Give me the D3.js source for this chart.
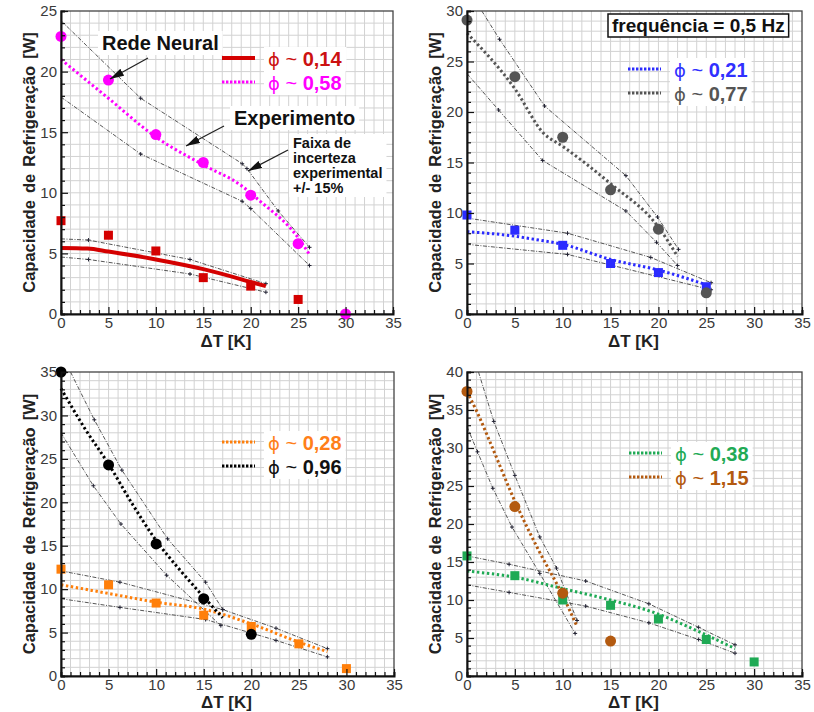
<!DOCTYPE html>
<html>
<head>
<meta charset="utf-8">
<script src="https://cdn.jsdelivr.net/npm/d3@7"></script>
<style>
  body { margin: 0; background: #fff; }
  svg { font-family: "Liberation Sans", Arial, Helvetica, sans-serif; }
</style>
</head>
<body>
<svg id="chart" width="814" height="712"></svg>
<script>
// ---- data: [ΔT (K), capacidade (W)] ----
const xTicks = [0, 5, 10, 15, 20, 25, 30, 35];

// painel 1 : phi 0,14 / 0,58
const exp014 = [[0, 7.7], [5, 6.5], [10, 5.2], [15, 3.0], [20, 2.3], [25, 1.2]];
const exp058 = [[0, 22.9], [5, 19.3], [10, 14.8], [15, 12.5], [20, 9.8], [25, 5.8], [30, 0]];
const rn014 = [[0, 5.45], [2.8, 5.4], [5, 5.15], [10, 4.5], [15, 3.7], [20, 2.65], [21.6, 2.3]];
const rn058 = [[0, 21], [5, 17.8], [10, 14.6], [15, 12.3], [19, 10.6], [21, 9.3], [25, 6.3], [26.2, 4.9]];
const band014Sup = [[0, 6.2], [2.9, 6.1], [13.6, 4.5], [21.6, 2.5]];
const band014Inf = [[0, 4.7], [2.9, 4.5], [13.6, 3.3], [21.6, 1.8]];
const band058Sup = [[0, 24.2], [8.4, 17.8], [19.1, 12.4], [19.6, 12.0], [22.9, 8.5], [26.2, 5.5]];
const band058Inf = [[0, 17.9], [8.4, 13.2], [19.1, 9.3], [20, 8.7], [26.2, 4.0]];

// painel 2 : phi 0,21 / 0,77
const exp021 = [[0, 9.8], [5, 8.3], [10, 6.8], [15, 5.0], [20, 4.1], [25, 2.7]];
const exp077 = [[0, 29.1], [5, 23.5], [10, 17.5], [15, 12.3], [20, 8.4], [25, 2.1]];
const rn021 = [[0, 8.15], [5, 7.7], [7, 7.4], [10, 6.9], [15, 5.4], [20, 4.35], [25, 2.9]];
const rn077 = [[0, 27.8], [5, 22.3], [8, 17.9], [10, 16.6], [15, 12.9], [20, 8.6], [22, 5.7]];
const band021Sup = [[0, 9.5], [10.5, 8.0], [19.2, 5.6], [25.5, 3.1]];
const band021Inf = [[0, 6.9], [10.5, 5.9], [25.5, 2.4]];
const band077Sup = [[1.55, 30], [3.4, 27.2], [8.1, 20.6], [16.6, 13.7], [19.9, 9.6], [22.1, 6.4]];
const band077Inf = [[0, 23.8], [3.3, 20.2], [7.9, 15.2], [16.6, 10.2], [19.8, 7.1], [22, 4.8]];

// painel 3 : phi 0,28 / 0,96
const exp028 = [[0, 12.3], [5, 10.5], [10, 8.4], [15, 7.0], [20, 5.7], [25, 3.7], [30, 0.85]];
const exp096 = [[0, 35], [5, 24.3], [10, 15.2], [15, 8.9], [20, 4.8]];
const rn028 = [[0, 10.5], [5, 9.5], [10, 8.5], [15, 7.7], [20, 6.0], [25, 3.9], [28, 2.8]];
const rn096 = [[0, 33.1], [2.5, 28.5], [5, 24.4], [7.5, 19.8], [10, 15.6], [12.5, 12.2], [15, 9.1], [17, 6.7]];
const band028Sup = [[0, 12.1], [6.2, 10.8], [17, 7.65], [22.6, 5.5], [28, 3.15]];
const band028Inf = [[0, 8.9], [6.2, 7.9], [15.2, 6.5], [22.6, 4.1], [28, 2.2]];
const band096Sup = [[1, 35], [3.5, 29.5], [6.4, 23.7], [11.2, 15.8], [15.2, 10.8], [17, 7.65]];
const band096Inf = [[0, 28], [3.4, 21.9], [6.3, 17.5], [11.1, 11.6], [16.8, 5.8]];

// painel 4 : phi 0,38 / 1,15
const exp038 = [[0, 15.8], [5, 13.2], [10, 10.0], [15, 9.3], [20, 7.5], [25, 4.8], [30, 1.85]];
const exp115 = [[0, 37.45], [5, 22.3], [10, 10.9], [15, 4.6]];
const rn038 = [[0, 13.8], [5, 13.0], [10, 11.5], [15, 10.0], [19.2, 8.5], [24.3, 5.8], [28, 3.6]];
const rn115 = [[0, 37.4], [1.1, 34.6], [2.5, 30.5], [5, 23.0], [7.5, 16.5], [10, 10.6], [11.5, 6.5]];
const band038Sup = [[0, 15.8], [4.4, 14.7], [12.4, 12.5], [19, 9.5], [24.2, 6.4], [28, 4.1]];
const band038Inf = [[0, 12.0], [4.4, 11.0], [12.4, 9.2], [19, 7.0], [24.2, 4.8], [28, 3.0]];
const band115Sup = [[1.2, 40], [2.8, 33.5], [5, 26.4], [7.6, 18.3], [9.35, 14.2], [11.5, 7.3]];
const band115Inf = [[0, 32.8], [1.1, 29.5], [2.7, 24.7], [4.7, 19.6], [7.6, 13.5], [11.3, 5.6]];

const yTitle = "Capacidade de Refrigeração [W]";
const xTitle = "ΔT [K]";

// ---- layout ----
const panels = [
  { left: 61, right: 393, top: 11, bottom: 314, yMax: 25, yTitleX: 35, xTitleY: 347,
    legend: { x: 222, y: 58 },
    series: [
      { label: "0,14", exp: exp014, shape: "square", rn: rn014, sup: band014Sup, inf: band014Inf, color: "#d40000", text: "#cc1111", solid: true },
      { label: "0,58", exp: exp058, shape: "circle", rn: rn058, sup: band058Sup, inf: band058Inf, color: "#ff00ff", text: "#ff00ff" }
    ] },
  { left: 467, right: 802, top: 11, bottom: 314, yMax: 30, yTitleX: 441, xTitleY: 347,
    legend: { x: 628, y: 69 },
    series: [
      { label: "0,21", exp: exp021, shape: "square", rn: rn021, sup: band021Sup, inf: band021Inf, color: "#2b2bff", text: "#3030ff" },
      { label: "0,77", exp: exp077, shape: "circle", rn: rn077, sup: band077Sup, inf: band077Inf, color: "#555555", text: "#555555" }
    ] },
  { left: 61, right: 394, top: 372, bottom: 676, yMax: 35, yTitleX: 35, xTitleY: 708,
    legend: { x: 222, y: 442 },
    series: [
      { label: "0,28", exp: exp028, shape: "square", rn: rn028, sup: band028Sup, inf: band028Inf, color: "#ff7f0a", text: "#ff7f1a" },
      { label: "0,96", exp: exp096, shape: "circle", rn: rn096, sup: band096Sup, inf: band096Inf, color: "#000000", text: "#111111" }
    ] },
  { left: 467, right: 802, top: 372, bottom: 676, yMax: 40, yTitleX: 441, xTitleY: 708,
    legend: { x: 629, y: 453 },
    series: [
      { label: "0,38", exp: exp038, shape: "square", rn: rn038, sup: band038Sup, inf: band038Inf, color: "#1faa55", text: "#22aa55" },
      { label: "1,15", exp: exp115, shape: "circle", rn: rn115, sup: band115Sup, inf: band115Inf, color: "#b35a10", text: "#b35a10" }
    ] }
];

const svg = d3.select("#chart");
const defs = svg.append("defs");
defs.append("marker")
  .attr("id", "seta")
  .attr("viewBox", "0 0 14 8")
  .attr("refX", 14).attr("refY", 4)
  .attr("markerUnits", "userSpaceOnUse")
  .attr("markerWidth", 14).attr("markerHeight", 8)
  .attr("orient", "auto")
  .append("path").attr("d", "M0,0 L14,4 L0,8 Z").attr("fill", "#111");

function whiteText(g, lines, x, y, size, lh, fill) {
  const t = g.append("text")
    .attr("x", x).attr("y", y)
    .attr("font-size", size).attr("font-weight", "bold")
    .attr("fill", fill || "#111");
  lines.forEach((s, i) => t.append("tspan").attr("x", x).attr("dy", i ? lh : 0).text(s));
  const b = t.node().getBBox();
  g.insert("rect", () => t.node())
    .attr("x", b.x - 4).attr("y", b.y - 1)
    .attr("width", b.width + 8).attr("height", b.height + 2)
    .attr("fill", "#fff");
  return t;
}

panels.forEach((p, pi) => {
  const x = d3.scaleLinear().domain([0, 35]).range([p.left, p.right]);
  const y = d3.scaleLinear().domain([0, p.yMax]).range([p.bottom, p.top]);
  const g = svg.append("g");

  // grid
  const grid = g.append("g").attr("stroke", "#d2d2d2").attr("stroke-width", 1);
  grid.selectAll("line.v").data(d3.range(1, 35)).join("line")
    .attr("x1", d => x(d)).attr("x2", d => x(d))
    .attr("y1", p.top).attr("y2", p.bottom);
  grid.selectAll("line.h").data(d3.range(1, p.yMax)).join("line")
    .attr("x1", p.left).attr("x2", p.right)
    .attr("y1", d => y(d)).attr("y2", d => y(d));

  // frame
  g.append("rect")
    .attr("x", p.left).attr("y", p.top)
    .attr("width", p.right - p.left).attr("height", p.bottom - p.top)
    .attr("fill", "none").attr("stroke", "#444").attr("stroke-width", 1.3);

  const band = d3.line().x(d => x(d[0])).y(d => y(d[1]));
  const smooth = d3.line().x(d => x(d[0])).y(d => y(d[1])).curve(d3.curveMonotoneX);

  // uncertainty band lines (+/- 15%)
  p.series.forEach(s => {
    [s.sup, s.inf].forEach(b => {
      g.append("path").datum(b)
        .attr("d", band)
        .attr("fill", "none").attr("stroke", "#555")
        .attr("stroke-width", 1).attr("stroke-dasharray", "4 1.5 1 1.5");
      g.append("g").selectAll("path").data(b.slice(1)).join("path")
        .attr("d", d => `M${x(d[0]) - 2},${y(d[1])}h4M${x(d[0])},${y(d[1]) - 2}v4`)
        .attr("stroke", "#223").attr("stroke-width", 1);
    });
  });

  // neural network curves
  p.series.forEach(s => {
    g.append("path").datum(s.rn)
      .attr("d", smooth)
      .attr("fill", "none").attr("stroke", s.color)
      .attr("stroke-width", s.solid ? 4 : 3)
      .attr("stroke-dasharray", s.solid ? null : "2.4 2.6");
  });

  // experimental points
  p.series.forEach(s => {
    if (s.shape === "square") {
      g.append("g").selectAll("rect").data(s.exp).join("rect")
        .attr("x", d => x(d[0]) - 4.5).attr("y", d => y(d[1]) - 4.5)
        .attr("width", 9).attr("height", 9)
        .attr("fill", s.color);
    } else {
      g.append("g").selectAll("circle").data(s.exp).join("circle")
        .attr("cx", d => x(d[0])).attr("cy", d => y(d[1]))
        .attr("r", 5.5).attr("fill", s.color);
    }
  });

  // axes
  const xAxis = g.append("g").attr("transform", `translate(0,${p.bottom})`)
    .call(d3.axisBottom(x).tickValues(xTicks).tickSize(0).tickPadding(3));
  xAxis.select(".domain").remove();
  xAxis.selectAll("text").attr("font-size", 15).attr("fill", "#3a3a3a")
    .attr("font-family", "Liberation Sans, Arial, sans-serif");

  const xMinor = g.append("g").attr("transform", `translate(0,${p.bottom})`)
    .call(d3.axisTop(x).tickValues(d3.range(0, 36)).tickFormat("").tickSizeOuter(0)
      .tickSize(4));
  xMinor.selectAll(".tick line").attr("y2", d => d % 5 === 0 ? -7 : -4)
    .attr("stroke", "#111").attr("stroke-width", 1.2);
  xMinor.select(".domain").attr("stroke", "#111").attr("stroke-width", 2);

  const yAxis = g.append("g").attr("transform", `translate(${p.left},0)`)
    .call(d3.axisLeft(y).tickValues(d3.range(0, p.yMax + 1, 5)).tickSize(0).tickPadding(4));
  yAxis.select(".domain").remove();
  yAxis.selectAll("text").attr("font-size", 15).attr("fill", "#3a3a3a")
    .attr("font-family", "Liberation Sans, Arial, sans-serif");

  const yMinor = g.append("g").attr("transform", `translate(${p.left},0)`)
    .call(d3.axisRight(y).tickValues(d3.range(0, p.yMax + 1)).tickFormat("").tickSizeOuter(0)
      .tickSize(4));
  yMinor.selectAll(".tick line").attr("x2", d => d % 5 === 0 ? 7 : 4)
    .attr("stroke", "#111").attr("stroke-width", 1.2);
  yMinor.select(".domain").attr("stroke", "#111").attr("stroke-width", 2);

  // titles
  g.append("text")
    .attr("transform", `translate(${p.yTitleX},${(p.top + p.bottom) / 2}) rotate(-90)`)
    .attr("text-anchor", "middle")
    .attr("font-size", 16.5).attr("font-weight", "bold").attr("fill", "#222")
    .attr("word-spacing", 2.5)
    .text(yTitle);
  g.append("text")
    .attr("x", (p.left + p.right) / 2 - 1).attr("y", p.xTitleY)
    .attr("text-anchor", "middle")
    .attr("font-size", 17).attr("font-weight", "bold").attr("fill", "#222")
    .text(xTitle);

  // legend
  p.series.forEach((s, i) => {
    const ly = p.legend.y + i * 24;
    g.append("line")
      .attr("x1", p.legend.x).attr("x2", p.legend.x + 33)
      .attr("y1", ly).attr("y2", ly)
      .attr("stroke", s.color)
      .attr("stroke-width", s.solid ? 4 : 3)
      .attr("stroke-dasharray", s.solid ? null : "2.4 1.6");
    const t = g.append("text")
      .attr("x", p.legend.x + 46).attr("y", ly + 8)
      .attr("font-size", 20).attr("fill", s.text);
    t.append("tspan").attr("font-family", "DejaVu Sans, sans-serif").attr("font-size", 18).text("ϕ");
    t.append("tspan").text(" ~ ");
    t.append("tspan").attr("font-weight", "bold").text(s.label);
    const b = t.node().getBBox();
    g.insert("rect", () => t.node())
      .attr("x", b.x - 4).attr("y", b.y - 1)
      .attr("width", b.width + 8).attr("height", b.height + 2)
      .attr("fill", "#fff");
  });

  // annotations, first panel only
  if (pi === 0) {
    whiteText(g, ["Rede Neural"], 102, 50, 20, 0);
    whiteText(g, ["Experimento"], 234, 125, 20, 0);
    whiteText(g, ["Faixa de", "incerteza", "experimental", "+/- 15%"], 293, 148, 14.5, 15);
    const arrows = [
      [[148, 58], [110, 79]],
      [[224, 126], [186, 146]],
      [[288, 150], [248, 171]]
    ];
    g.append("g").selectAll("line").data(arrows).join("line")
      .attr("x1", d => d[0][0]).attr("y1", d => d[0][1])
      .attr("x2", d => d[1][0]).attr("y2", d => d[1][1])
      .attr("stroke", "#222").attr("stroke-width", 1.3)
      .attr("marker-end", "url(#seta)");
  }

  // frequency box, second panel only
  if (pi === 1) {
    const t = g.append("text")
      .attr("x", 612).attr("y", 32)
      .attr("font-size", 19).attr("font-weight", "bold").attr("fill", "#111")
      .text("frequência = 0,5 Hz");
    const b = t.node().getBBox();
    g.insert("rect", () => t.node())
      .attr("x", b.x - 4).attr("y", 14)
      .attr("width", b.width + 8).attr("height", 23)
      .attr("fill", "#fff").attr("stroke", "#111").attr("stroke-width", 1.5);
  }
});
</script>
</body>
</html>
